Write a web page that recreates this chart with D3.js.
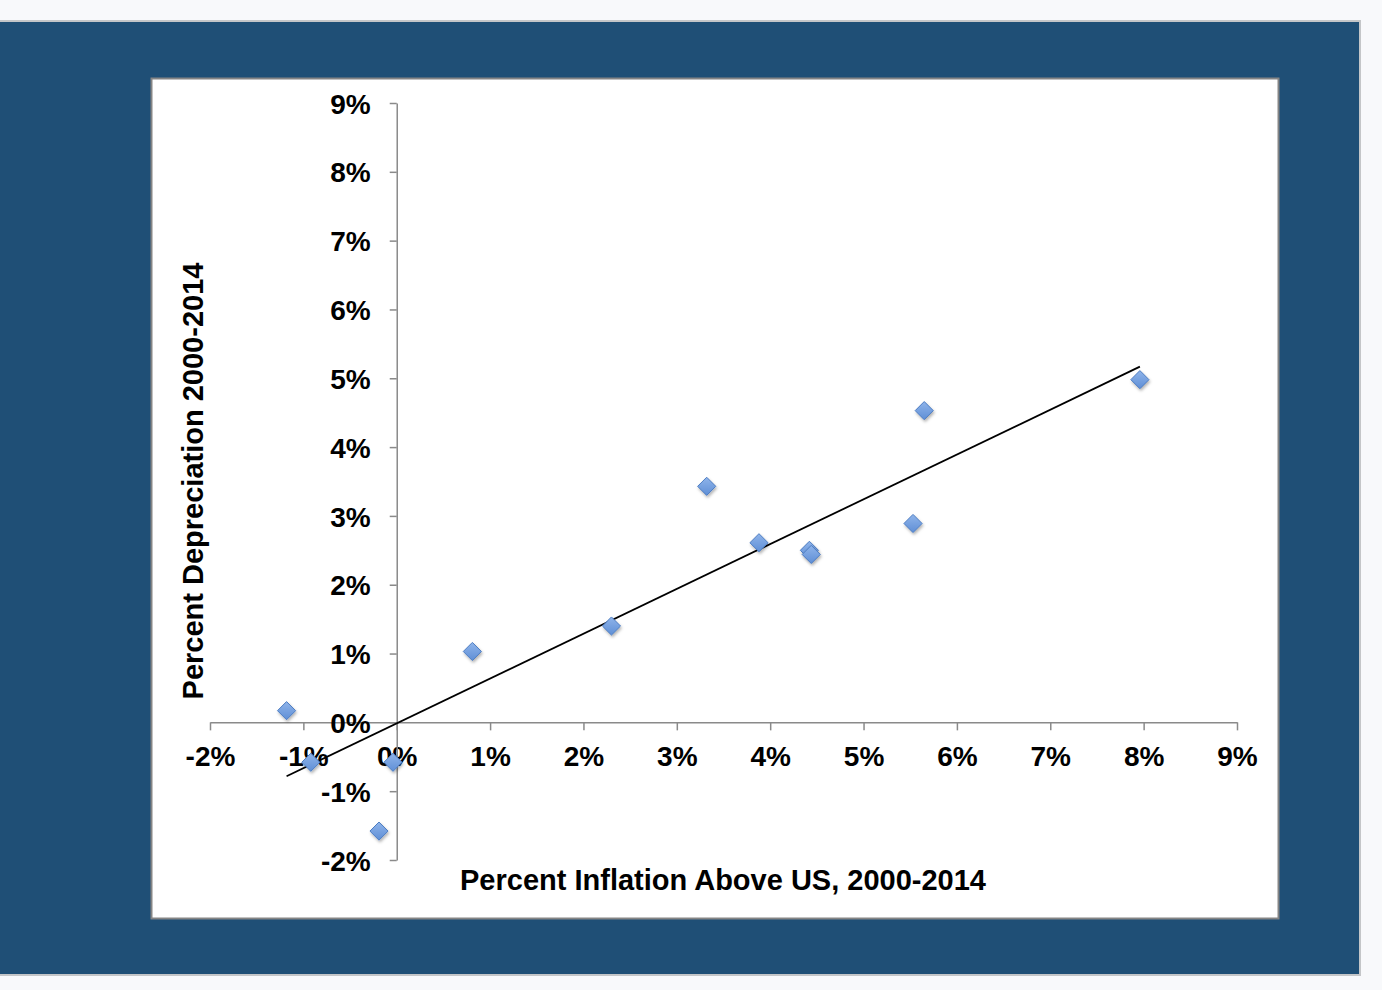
<!DOCTYPE html>
<html>
<head>
<meta charset="utf-8">
<script src="https://cdn.jsdelivr.net/npm/d3@7/dist/d3.min.js"></script>
<style>
  html, body { margin: 0; padding: 0; background: #f8f9fb; }
  svg { display: block; }
  text { font-family: "Liberation Sans", Arial, Helvetica, sans-serif; font-weight: bold; fill: #000; }
</style>
</head>
<body>
<svg id="chart" width="1382" height="990"></svg>
<script>
// Data: percent inflation above US (x) vs percent depreciation (y), 2000-2014
const inflation    = [-1.18, -0.92, -0.04, -0.19, 0.81, 2.30, 3.32, 3.88, 4.42, 4.44, 5.53, 5.65, 7.96];
const depreciation = [ 0.17, -0.58, -0.58, -1.58, 1.03, 1.40, 3.43, 2.61, 2.50, 2.44, 2.89, 4.53, 4.98];
const xTicks = [-2, -1, 0, 1, 2, 3, 4, 5, 6, 7, 8, 9];
const yTicks = [-2, -1, 0, 1, 2, 3, 4, 5, 6, 7, 8, 9];
const xTitle = "Percent Inflation Above US, 2000-2014";
const yTitle = "Percent Depreciation 2000-2014";

const svg = d3.select("#chart");

// outer navy panel
svg.append("rect").attr("x", -2).attr("y", 21).attr("width", 1362).attr("height", 954)
  .attr("fill", "#1f4f76").attr("stroke", "#c4c6c8").attr("stroke-width", 2);
// white chart area
svg.append("rect").attr("x", 151.5).attr("y", 78.5).attr("width", 1127).attr("height", 840)
  .attr("fill", "#fff").attr("stroke", "#858585").attr("stroke-width", 2);

const x = d3.scaleLinear().domain([-2, 9]).range([210, 1237]);
const y = d3.scaleLinear().domain([-2, 9]).range([860, 103]);

const axisColor = "#8a8a8a";

// x axis through y=0
const gx = svg.append("g").attr("transform", `translate(0,${y(0)})`)
  .call(d3.axisBottom(x).tickValues(xTicks).tickSize(8).tickSizeOuter(0).tickFormat(d => d + "%"));
// y axis through x=0
const gy = svg.append("g").attr("transform", `translate(${x(0)},0)`)
  .call(d3.axisLeft(y).tickValues(yTicks).tickSize(7).tickSizeOuter(0).tickFormat(d => d + "%"));

[gx, gy].forEach(g => {
  g.select(".domain").attr("stroke", axisColor).attr("stroke-width", 1.5);
  g.selectAll(".tick line").attr("stroke", axisColor).attr("stroke-width", 1.5);
  g.selectAll(".tick text").style("font-size", "28px").attr("fill", "#000");
});
gx.selectAll(".tick text").attr("dy", null).attr("y", 44);
gy.selectAll(".tick text").attr("x", -26).attr("dy", "0.36em");

// trendline (least squares)
const n = inflation.length;
const mx = d3.mean(inflation), my = d3.mean(depreciation);
let sxy = 0, sxx = 0;
for (let i = 0; i < n; i++) {
  sxy += (inflation[i] - mx) * (depreciation[i] - my);
  sxx += (inflation[i] - mx) ** 2;
}
const slope = sxy / sxx, intercept = my - slope * mx;
const [x0, x1] = d3.extent(inflation);
svg.append("line")
  .attr("x1", x(x0)).attr("y1", y(intercept + slope * x0))
  .attr("x2", x(x1)).attr("y2", y(intercept + slope * x1))
  .attr("stroke", "#000").attr("stroke-width", 1.8);

// markers
const defs = svg.append("defs");
const grad = defs.append("linearGradient").attr("id", "mk").attr("x1", 0).attr("y1", 0).attr("x2", 0).attr("y2", 1);
grad.append("stop").attr("offset", "0%").attr("stop-color", "#8fb4ea");
grad.append("stop").attr("offset", "100%").attr("stop-color", "#5f8fd6");
const shadow = defs.append("filter").attr("id", "sh").attr("x", "-50%").attr("y", "-50%").attr("width", "200%").attr("height", "200%");
shadow.append("feDropShadow").attr("dx", 1).attr("dy", 2).attr("stdDeviation", 1.5).attr("flood-color", "#000").attr("flood-opacity", 0.3);

const diamond = d3.symbol().type(d3.symbolDiamond2).size(210);
svg.append("g").selectAll("path").data(inflation.map((v, i) => [v, depreciation[i]]))
  .join("path")
  .attr("d", diamond)
  .attr("transform", d => `translate(${x(d[0])},${y(d[1])})`)
  .attr("fill", "url(#mk)").attr("stroke", "#4c7cc2").attr("stroke-width", 1)
  .attr("filter", "url(#sh)");

// axis titles
svg.append("text").attr("x", 723).attr("y", 890).attr("text-anchor", "middle")
  .style("font-size", "29px").text(xTitle);
svg.append("text").attr("transform", `translate(203,481) rotate(-90)`).attr("text-anchor", "middle")
  .style("font-size", "29px").text(yTitle);
</script>
</body>
</html>
